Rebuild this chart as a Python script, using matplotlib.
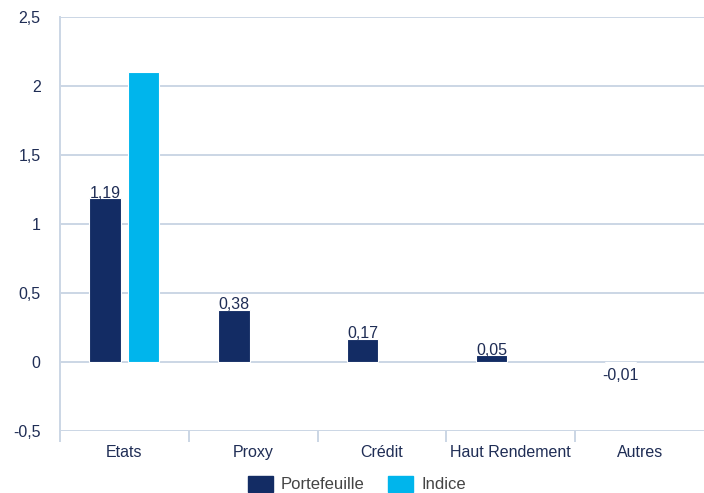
import matplotlib.pyplot as plt
import numpy as np

categories = ['Etats', 'Proxy', 'Crédit', 'Haut Rendement', 'Autres']
portefeuille = [1.19, 0.38, 0.17, 0.05, -0.01]
indice = [2.1, 0.0, 0.0, 0.0, 0.0]
yticks = [-0.5, 0, 0.5, 1, 1.5, 2, 2.5]

navy = '#132c64'
sky = '#00b5ec'
grid = '#cbd6e5'
text = '#1f2d55'

plt.rcParams['font.family'] = ['Liberation Sans', 'DejaVu Sans']


def fr(v):
    s = ('%g' % v).replace('.', ',')
    return s


fig = plt.figure(figsize=(7.04, 4.93), dpi=100)
ax = fig.add_axes([60 / 704, 1 - 431 / 493, 644 / 704, 414 / 493])

x = np.arange(len(categories))
w = 0.245
off = 0.15
ax.bar(x - off, portefeuille, w, color=navy, edgecolor='white', linewidth=0.8, zorder=3)
# no outline on empty bars, otherwise they cut the zero line
ax.bar(x + off, indice, w, color=sky,
       edgecolor=['white' if v else 'none' for v in indice], linewidth=0.8, zorder=3)

for xi, v in zip(x - off, portefeuille):
    lbl = ('%.2f' % v).replace('.', ',')
    if v >= 0:
        ax.text(xi, v + 0.002, lbl, ha='center', va='baseline', fontsize=11.5, color=text, zorder=4)
    else:
        ax.text(xi, v - 0.03, lbl, ha='center', va='top', fontsize=11.5, color=text, zorder=4)

ax.set_ylim(-0.5, 2.5)
ax.set_xlim(-0.5, len(categories) - 0.5)
ax.set_yticks(yticks)
ax.set_yticklabels([fr(t) for t in yticks])
for t in yticks:
    ax.axhline(t, color=grid, linewidth=1.4, zorder=1)

ax.set_xticks(x)
ax.set_xticklabels(categories)
ax.set_xticks(np.arange(len(categories)) - 0.5, minor=True)
ax.tick_params(axis='x', which='major', length=0, pad=10, labelsize=11.5, labelcolor=text)
ax.tick_params(axis='x', which='minor', length=8, width=1.4, color=grid)
ax.tick_params(axis='y', length=0, pad=14, labelsize=11.5, labelcolor=text)

for s in ['top', 'right', 'bottom']:
    ax.spines[s].set_visible(False)
ax.spines['left'].set_color(grid)
ax.spines['left'].set_linewidth(1.4)

handles = [plt.Rectangle((0, 0), 1, 1, color=navy), plt.Rectangle((0, 0), 1, 1, color=sky)]
leg = fig.legend(handles, ['Portefeuille', 'Indice'], loc='center', bbox_to_anchor=(0.507, 0.018),
                 ncol=2, frameon=False, fontsize=12, handlelength=1.5, handleheight=1.1,
                 handletextpad=0.5, columnspacing=1.4)
for t in leg.get_texts():
    t.set_color('#444444')

fig.savefig('out.png', dpi=100)
